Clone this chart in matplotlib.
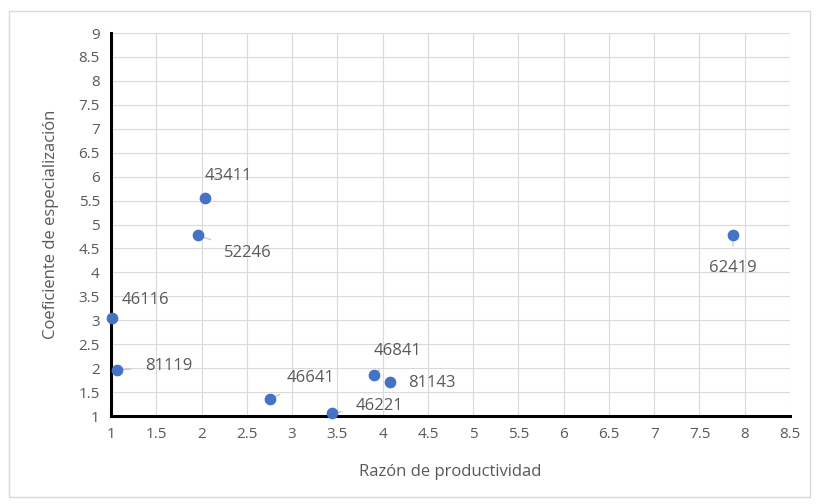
import matplotlib.pyplot as plt
from matplotlib.patches import Rectangle
import numpy as np

plt.rcParams['font.family'] = ['Open Sans', 'DejaVu Sans']

codes = ['43411', '52246', '62419', '46116', '81119', '46641', '46221', '46841', '81143']
razon = [2.04, 1.96, 7.87, 1.01, 1.07, 2.76, 3.44, 3.91, 4.08]
coef = [5.55, 4.78, 4.78, 3.05, 1.96, 1.35, 1.06, 1.86, 1.71]
# label offsets in pixels (dx, dy) relative to each point
offsets = [(23, 22), (50, -18), (0, -33), (34, 18), (51, 4), (40, 21), (48, 7), (23, 24), (42, -1)]

fig = plt.figure(figsize=(8.19, 5.04), dpi=100)
fig.patches.append(Rectangle((0.011, 0.014), 0.978, 0.965, transform=fig.transFigure,
                             fill=False, edgecolor='#d9d9d9', linewidth=1))
ax = fig.add_axes([0.1355, 0.1746, 0.8291, 0.7599])

ax.scatter(razon, coef, s=55, color='#4472c4', zorder=6, clip_on=False)
for c, x, y, (dx, dy) in zip(codes, razon, coef, offsets):
    ax.annotate(c, (x, y), xytext=(dx * 0.72, dy * 0.72), textcoords='offset points',
                ha='center', va='center', fontsize=12, color='#595959', zorder=4,
                arrowprops=dict(arrowstyle='-', color='#bfbfbf', lw=0.8,
                                shrinkA=8, shrinkB=4))

ax.set_xlim(1, 8.5)
ax.set_ylim(1, 9)
ax.set_xticks(np.arange(1, 8.51, 0.5))
ax.set_yticks(np.arange(1, 9.01, 0.5))
ax.set_xticklabels([f'{v:g}' for v in np.arange(1, 8.51, 0.5)])
ax.set_yticklabels([f'{v:g}' for v in np.arange(1, 9.01, 0.5)])
ax.grid(True, color='#d9d9d9', linewidth=0.8)
ax.set_axisbelow(True)
for s in ['top', 'right']:
    ax.spines[s].set_visible(False)
for s in ['left', 'bottom']:
    ax.spines[s].set_linewidth(2.2)
    ax.spines[s].set_color('black')
ax.tick_params(length=0, labelsize=11, labelcolor='#595959', pad=8)

ax.set_xlabel('Razón de productividad', fontsize=12, color='#595959', labelpad=16)
ax.set_ylabel('Coeficiente de especialización', fontsize=12, color='#595959', labelpad=14)

fig.savefig('out.png', dpi=100)
